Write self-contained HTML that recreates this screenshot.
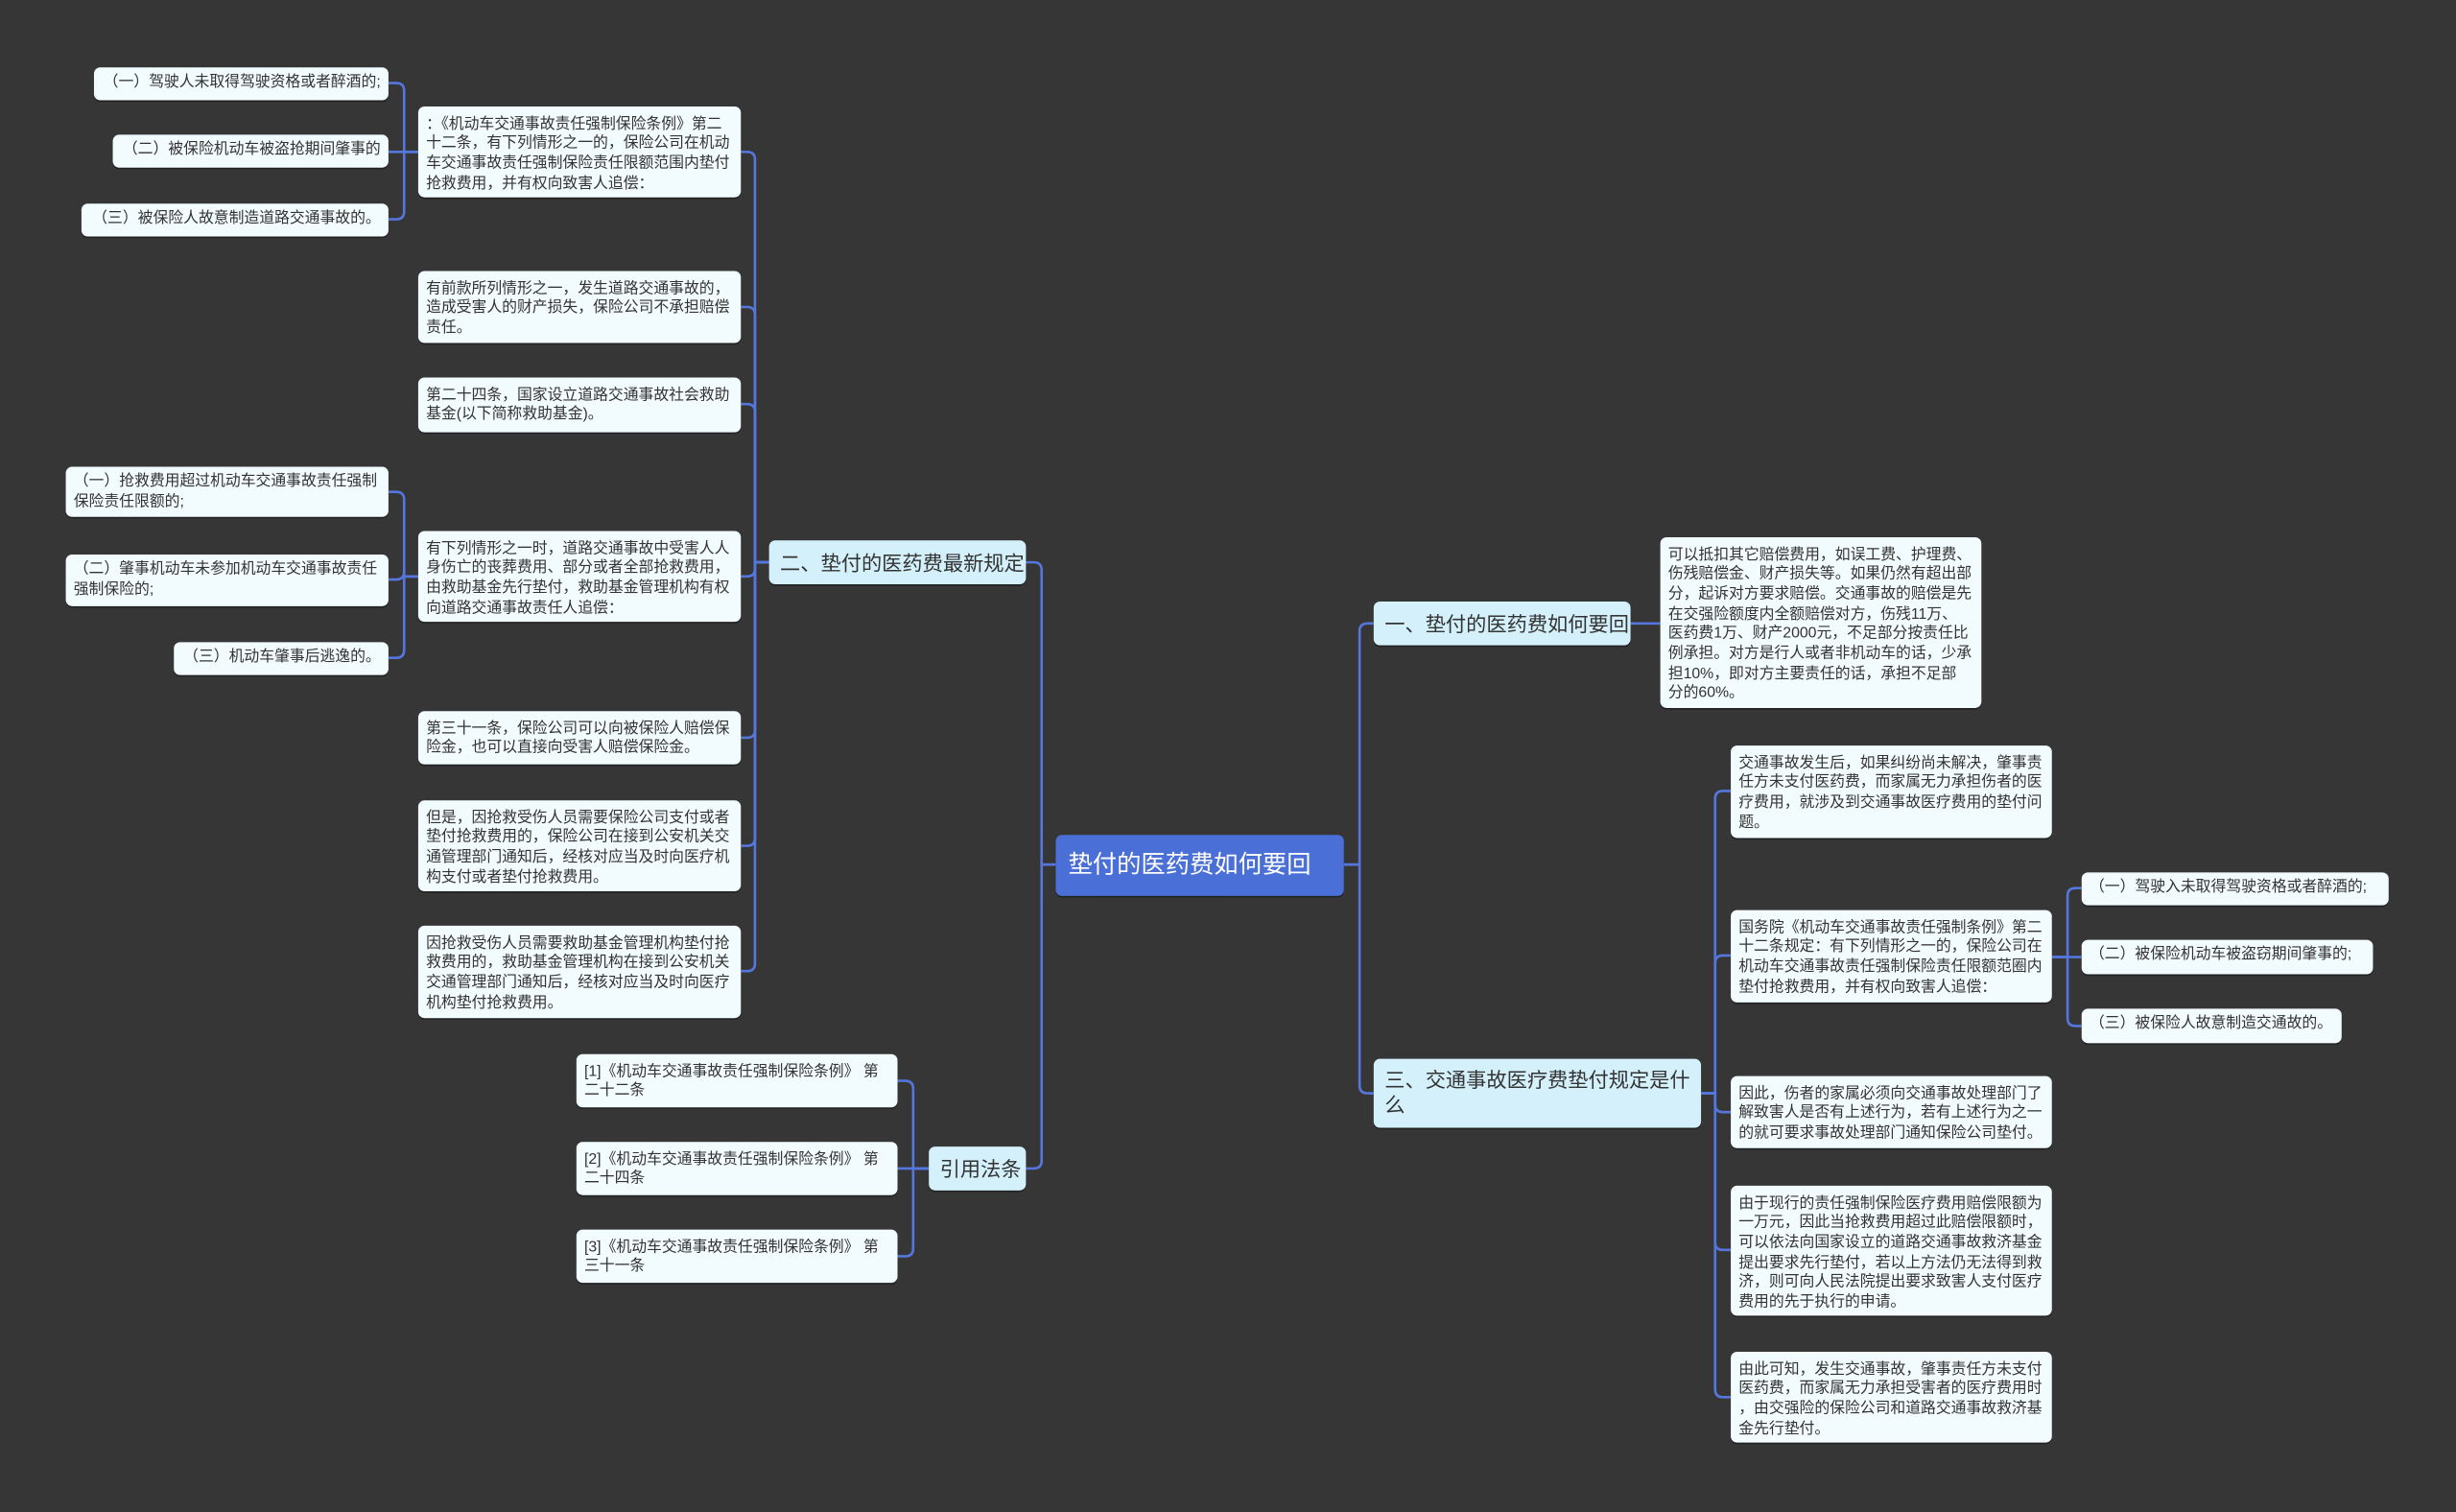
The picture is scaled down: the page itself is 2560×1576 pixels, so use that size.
<!DOCTYPE html>
<html><head><meta charset="utf-8">
<style>
html,body{margin:0;padding:0;background:#373637;}
body{width:2560px;height:1575px;overflow:hidden;position:relative;}
#c{position:absolute;left:0;top:0;width:1568px;height:965px;transform:scale(1.63265);transform-origin:0 0;}
.b{position:absolute;box-sizing:border-box;background:#f2fbfd;border-radius:4px;color:#333;
font-family:"Liberation Sans","Noto Sans CJK SC",sans-serif;font-size:9.7px;line-height:12.7px;padding:5.5px 5px 0 5px;white-space:nowrap;overflow:hidden;box-shadow:0 1px 0 #222;}
.l2{background:#d3f0fb;font-size:13px;line-height:16px;padding:6.5px 7px 0 7px;}
.ctr{background:#4a6fd6;color:#fff;font-size:15.5px;line-height:20px;padding:10px 8px 0 8px;}
svg{position:absolute;left:0;top:0;}
svg path{fill:none;stroke:#5577dd;stroke-width:1.6;}
</style></head><body><div id="c">
<svg width="1568" height="965">
<path d="M674 552 H665 V364 Q665 359 660 359 H655"/>
<path d="M674 552 H665 V741 Q665 746 660 746 H655"/>
<path d="M858 552 H868 V403 Q868 398 873 398 H877"/>
<path d="M858 552 H868 V693 Q868 698 873 698 H877"/>
<path d="M491 359 H482 V102 Q482 97 477 97 H473"/>
<path d="M491 359 H482 V201 Q482 196 477 196 H473"/>
<path d="M491 359 H482 V263 Q482 258 477 258 H473"/>
<path d="M491 359 H482 V363 Q482 368 477 368 H473"/>
<path d="M491 359 H482 V466 Q482 471 477 471 H473"/>
<path d="M491 359 H482 V535 Q482 540 477 540 H473"/>
<path d="M491 359 H482 V615 Q482 620 477 620 H473"/>
<path d="M267 97 H258 V58 Q258 53 253 53 H248"/>
<path d="M267 97 H248"/>
<path d="M267 97 H258 V135 Q258 140 253 140 H248"/>
<path d="M267 368 H258 V319 Q258 314 253 314 H248"/>
<path d="M267 368 H258 V365 Q258 370 253 370 H248"/>
<path d="M267 368 H258 V415 Q258 420 253 420 H248"/>
<path d="M593 746 H583 V695 Q583 690 578 690 H573"/>
<path d="M593 746 H573"/>
<path d="M593 746 H583 V797 Q583 802 578 802 H573"/>
<path d="M1041 398 H1060"/>
<path d="M1086 698 H1095 V510 Q1095 505 1100 505 H1105"/>
<path d="M1086 698 H1095 V615 Q1095 610 1100 610 H1105"/>
<path d="M1086 698 H1095 V705 Q1095 710 1100 710 H1105"/>
<path d="M1086 698 H1095 V793 Q1095 798 1100 798 H1105"/>
<path d="M1086 698 H1095 V887 Q1095 892 1100 892 H1105"/>
<path d="M1310 611 H1320 V572 Q1320 567 1325 567 H1329"/>
<path d="M1310 611 H1329"/>
<path d="M1310 611 H1320 V650 Q1320 655 1325 655 H1329"/>
</svg>

<div class="b ctr" style="left:674px;top:533px;width:184px;height:39px;">垫付的医药费如何要回</div>
<div class="b l2" style="left:491px;top:345px;width:164px;height:28px;">二、垫付的医药费最新规定</div>
<div class="b l2" style="left:877px;top:384px;width:164px;height:28px;">一、垫付的医药费如何要回</div>
<div class="b l2" style="left:877px;top:676px;width:209px;height:44px;padding-top:6px;">三、交通事故医疗费垫付规定是什<br>么</div>
<div class="b l2" style="left:593px;top:732px;width:62px;height:28px;">引用法条</div>

<div class="b" style="left:267px;top:68px;width:206px;height:58px;">：《机动车交通事故责任强制保险条例》第二<br>十二条，有下列情形之一的，保险公司在机动<br>车交通事故责任强制保险责任限额范围内垫付<br>抢救费用，并有权向致害人追偿：</div>
<div class="b" style="left:267px;top:173px;width:206px;height:46px;">有前款所列情形之一，发生道路交通事故的，<br>造成受害人的财产损失，保险公司不承担赔偿<br>责任。</div>
<div class="b" style="left:267px;top:241px;width:206px;height:35px;">第二十四条，国家设立道路交通事故社会救助<br>基金(以下简称救助基金)。</div>
<div class="b" style="left:267px;top:339px;width:206px;height:58px;">有下列情形之一时，道路交通事故中受害人人<br>身伤亡的丧葬费用、部分或者全部抢救费用，<br>由救助基金先行垫付，救助基金管理机构有权<br>向道路交通事故责任人追偿：</div>
<div class="b" style="left:267px;top:454px;width:206px;height:34px;">第三十一条，保险公司可以向被保险人赔偿保<br>险金，也可以直接向受害人赔偿保险金。</div>
<div class="b" style="left:267px;top:511px;width:206px;height:58px;">但是，因抢救受伤人员需要保险公司支付或者<br>垫付抢救费用的，保险公司在接到公安机关交<br>通管理部门通知后，经核对应当及时向医疗机<br>构支付或者垫付抢救费用。</div>
<div class="b" style="left:267px;top:591px;width:206px;height:59px;">因抢救受伤人员需要救助基金管理机构垫付抢<br>救费用的，救助基金管理机构在接到公安机关<br>交通管理部门通知后，经核对应当及时向医疗<br>机构垫付抢救费用。</div>

<div class="b" style="left:60px;top:43px;width:188px;height:21px;text-align:right;padding-top:4px;">（一）驾驶人未取得驾驶资格或者醉酒的;</div>
<div class="b" style="left:72px;top:86px;width:176px;height:21px;text-align:right;padding-top:4px;">（二）被保险机动车被盗抢期间肇事的</div>
<div class="b" style="left:52px;top:130px;width:196px;height:21px;text-align:right;padding-top:4px;">（三）被保险人故意制造道路交通事故的。</div>
<div class="b" style="left:42px;top:298px;width:206px;height:32px;padding-top:4px;">（一）抢救费用超过机动车交通事故责任强制<br>保险责任限额的;</div>
<div class="b" style="left:42px;top:354px;width:206px;height:33px;padding-top:4px;">（二）肇事机动车未参加机动车交通事故责任<br>强制保险的;</div>
<div class="b" style="left:111px;top:410px;width:137px;height:21px;text-align:right;padding-top:4px;">（三）机动车肇事后逃逸的。</div>

<div class="b" style="left:368px;top:673px;width:205px;height:34px;">[1]《机动车交通事故责任强制保险条例》 第<br>二十二条</div>
<div class="b" style="left:368px;top:729px;width:205px;height:34px;">[2]《机动车交通事故责任强制保险条例》 第<br>二十四条</div>
<div class="b" style="left:368px;top:785px;width:205px;height:34px;">[3]《机动车交通事故责任强制保险条例》 第<br>三十一条</div>

<div class="b" style="left:1060px;top:343px;width:205px;height:109px;">可以抵扣其它赔偿费用，如误工费、护理费、<br>伤残赔偿金、财产损失等。如果仍然有超出部<br>分，起诉对方要求赔偿。交通事故的赔偿是先<br>在交强险额度内全额赔偿对方，伤残11万、<br>医药费1万、财产2000元，不足部分按责任比<br>例承担。对方是行人或者非机动车的话，少承<br>担10%，即对方主要责任的话，承担不足部<br>分的60%。</div>

<div class="b" style="left:1105px;top:476px;width:205px;height:59px;">交通事故发生后，如果纠纷尚未解决，肇事责<br>任方未支付医药费，而家属无力承担伤者的医<br>疗费用，就涉及到交通事故医疗费用的垫付问<br>题。</div>
<div class="b" style="left:1105px;top:581px;width:205px;height:59px;">国务院《机动车交通事故责任强制条例》第二<br>十二条规定：有下列情形之一的，保险公司在<br>机动车交通事故责任强制保险责任限额范圈内<br>垫付抢救费用，并有权向致害人追偿：</div>
<div class="b" style="left:1105px;top:687px;width:205px;height:46px;">因此，伤者的家属必须向交通事故处理部门了<br>解致害人是否有上述行为，若有上述行为之一<br>的就可要求事故处理部门通知保险公司垫付。</div>
<div class="b" style="left:1105px;top:757px;width:205px;height:83px;">由于现行的责任强制保险医疗费用赔偿限额为<br>一万元，因此当抢救费用超过此赔偿限额时，<br>可以依法向国家设立的道路交通事故救济基金<br>提出要求先行垫付，若以上方法仍无法得到救<br>济，则可向人民法院提出要求致害人支付医疗<br>费用的先于执行的申请。</div>
<div class="b" style="left:1105px;top:863px;width:205px;height:58px;">由此可知，发生交通事故，肇事责任方未支付<br>医药费，而家属无力承担受害者的医疗费用时<br>，由交强险的保险公司和道路交通事故救济基<br>金先行垫付。</div>

<div class="b" style="left:1329px;top:557px;width:196px;height:21px;padding-top:4px;">（一）驾驶入未取得驾驶资格或者醉酒的;</div>
<div class="b" style="left:1329px;top:600px;width:186px;height:22px;padding-top:4px;">（二）被保险机动车被盗窃期间肇事的;</div>
<div class="b" style="left:1329px;top:644px;width:166px;height:22px;padding-top:4px;">（三）被保险人故意制造交通故的。</div>
</div></body></html>
